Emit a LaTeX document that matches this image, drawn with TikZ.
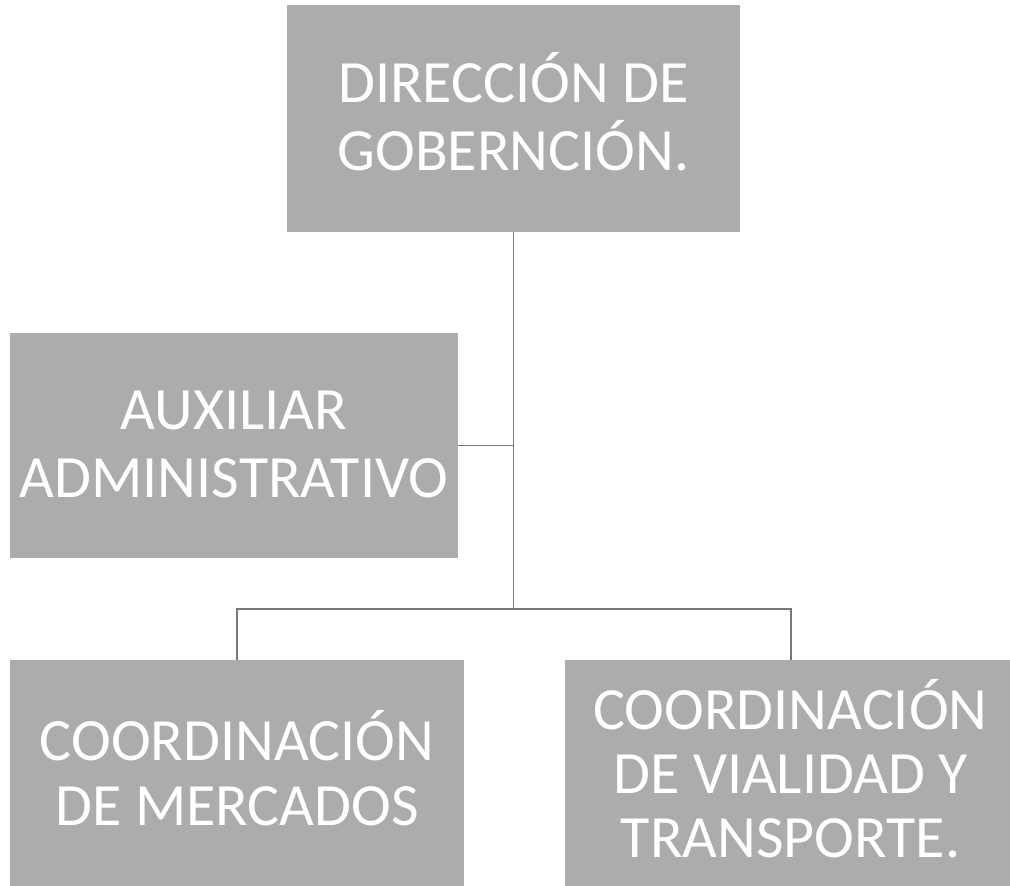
\documentclass[tikz,border=0pt]{standalone}
\usepackage{fontspec}
\setmainfont{Carlito}
\definecolor{boxgray}{RGB}{172,172,174}
\definecolor{linegray}{RGB}{120,120,120}
\begin{document}
\begin{tikzpicture}[x=1pt,y=-1pt,
  orgbox/.style={rectangle, fill=boxgray, inner sep=0pt},
  orgtext/.style={inner sep=0pt, align=center, text=white, font=\fontsize{60}{68}\selectfont},
  conn/.style={draw=linegray, line width=1.5pt}]
\useasboundingbox (0,0) rectangle (1010,886);
\node[orgbox, minimum width=453pt, minimum height=227pt] (top) at (513.5,118.5) {};
\node[orgtext] (toptext) at ([yshift=7pt]top.center) {DIRECCIÓN DE\\GOBERNCIÓN.};
\node[orgbox, minimum width=448pt, minimum height=225pt] (aux) at (234,445.5) {};
\node[orgtext] (auxtext) at ([yshift=1pt]aux.center) {AUXILIAR\\ADMINISTRATIVO};
\node[orgbox, minimum width=454pt, minimum height=226pt] (merc) at (237,773) {};
\node[orgtext, font=\fontsize{60}{65}\selectfont] (merctext) at ([yshift=5pt]merc.center) {COORDINACIÓN\\DE MERCADOS};
\node[orgbox, minimum width=445pt, minimum height=226pt] (vial) at (787.5,773) {};
\node[orgtext, font=\fontsize{60}{64}\selectfont] (vialtext) at ([yshift=4pt,xshift=3pt]vial.center) {COORDINACIÓN\\DE VIALIDAD Y\\TRANSPORTE.};
\coordinate (j) at (513.5,609);
\coordinate (vialin) at ([xshift=3.5pt]vial.north);
\draw[conn] (top.south) -- (j);
\draw[conn] (aux.east) -- (aux.east -| top.south);
\draw[conn] (merc.north) |- (j) -| (vialin);
\end{tikzpicture}
\end{document}
